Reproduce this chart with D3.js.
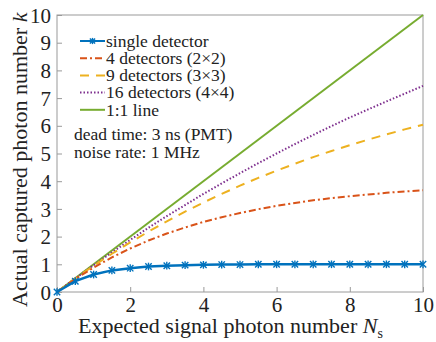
<!DOCTYPE html>
<html>
<head>
<meta charset="utf-8">
<script src="https://cdn.jsdelivr.net/npm/d3@7"></script>
</head>
<body style="margin:0;background:#fff">
<svg id="chart" width="436" height="342"></svg>
<script>
// expected signal photon number, sampled every 0.5
const ns = [0, 0.5, 1, 1.5, 2, 2.5, 3, 3.5, 4, 4.5, 5, 5.5, 6, 6.5, 7, 7.5, 8, 8.5, 9, 9.5, 10];
const single = [0, 0.39, 0.63, 0.78, 0.86, 0.92, 0.95, 0.97, 0.98, 0.99, 0.99, 1.0, 1.0, 1.0, 1.0, 1.0, 1.0, 1.0, 1.0, 1.0, 1.0];
const det4 = [0, 0.47, 0.88, 1.25, 1.57, 1.86, 2.11, 2.33, 2.53, 2.70, 2.85, 2.99, 3.11, 3.21, 3.31, 3.39, 3.46, 3.52, 3.58, 3.63, 3.67];
const det9 = [0, 0.49, 0.95, 1.38, 1.79, 2.18, 2.55, 2.90, 3.23, 3.54, 3.84, 4.12, 4.38, 4.63, 4.87, 5.09, 5.30, 5.50, 5.69, 5.87, 6.04];
const det16 = [0, 0.49, 0.97, 1.43, 1.88, 2.32, 2.74, 3.14, 3.54, 3.92, 4.29, 4.65, 5.00, 5.34, 5.67, 5.99, 6.30, 6.59, 6.88, 7.16, 7.44];
const oneToOneX = [0, 10];
const oneToOneY = [0, 10];
const xTicks = [0, 2, 4, 6, 8, 10];
const yTicks = [0, 1, 2, 3, 4, 5, 6, 7, 8, 9, 10];

const FONT = '"Liberation Serif"';
const INK = "#222";

const margin = { top: 15, right: 13, bottom: 50, left: 57 };
const width = 436, height = 342;
const innerWidth = width - margin.left - margin.right;
const innerHeight = height - margin.top - margin.bottom;

const svg = d3.select("#chart");
const g = svg.append("g").attr("transform", `translate(${margin.left},${margin.top})`);

const x = d3.scaleLinear().domain([0, 10]).range([0, innerWidth]);
const y = d3.scaleLinear().domain([0, 10]).range([innerHeight, 0]);

function label(sel, size) {
  return sel.style("font-family", FONT).style("font-size", size + "px").attr("fill", INK);
}

// frame
g.append("rect")
  .attr("width", innerWidth)
  .attr("height", innerHeight)
  .attr("fill", "none")
  .attr("stroke", "#9a9a9a")
  .attr("stroke-width", 1);

// axes with inward ticks
const xAxis = g.append("g")
  .attr("transform", `translate(0,${innerHeight})`)
  .call(d3.axisBottom(x).tickValues(xTicks).tickSize(-5).tickPadding(5).tickFormat(d3.format("d")));
const yAxis = g.append("g")
  .call(d3.axisLeft(y).tickValues(yTicks).tickSize(-5).tickPadding(6).tickFormat(d3.format("d")));

[xAxis, yAxis].forEach(a => {
  a.select(".domain").remove();
  a.selectAll(".tick line").attr("stroke", "#9a9a9a");
  label(a.selectAll(".tick text"), 21);
});
xAxis.selectAll(".tick text").attr("dy", "0.72em");
yAxis.selectAll(".tick text").attr("dy", "0.34em");

const series = [
  { name: "single detector", values: single, color: "#0072BD", dash: null, marker: true },
  { name: "4 detectors (2\u00d72)", values: det4, color: "#D95319", dash: "7,3,2,3", marker: false },
  { name: "9 detectors (3\u00d73)", values: det9, color: "#EDB120", dash: "9,7", marker: false },
  { name: "16 detectors (4\u00d74)", values: det16, color: "#7E2F8E", dash: "1.5,2", marker: false },
];

const line = d3.line().x(d => x(d[0])).y(d => y(d[1]));

// 1:1 line
g.append("path")
  .datum(d3.zip(oneToOneX, oneToOneY))
  .attr("fill", "none")
  .attr("stroke", "#77AC30")
  .attr("stroke-width", 2)
  .attr("d", line);

series.slice().reverse().forEach(s => {
  g.append("path")
    .datum(d3.zip(ns, s.values))
    .attr("fill", "none")
    .attr("stroke", s.color)
    .attr("stroke-width", s.marker ? 2.5 : 2)
    .attr("stroke-dasharray", s.dash)
    .attr("d", line);
});

// asterisk-like markers on single detector curve
function star(sel, cx, cy, r, color) {
  const gg = sel.append("g").attr("transform", `translate(${cx},${cy})`)
    .attr("stroke", color).attr("stroke-width", 1.4);
  gg.append("line").attr("x1", -r).attr("x2", r).attr("y1", -r).attr("y2", r);
  gg.append("line").attr("x1", -r).attr("x2", r).attr("y1", r).attr("y2", -r);
  gg.append("line").attr("x1", 0).attr("x2", 0).attr("y1", -r * 1.2).attr("y2", r * 1.2);
}
ns.forEach((v, i) => star(g, x(v), y(single[i]), 3.2, "#0072BD"));

// legend
const legendItems = series.concat([{ name: "1:1 line", color: "#77AC30", dash: null, marker: false }]);
const lg = svg.append("g").attr("transform", "translate(80,41)");
legendItems.forEach((s, i) => {
  const row = lg.append("g").attr("transform", `translate(0,${i * 17.2})`);
  row.append("line")
    .attr("x1", 0).attr("x2", 25)
    .attr("stroke", s.color)
    .attr("stroke-width", 2)
    .attr("stroke-dasharray", s.dash);
  if (s.marker) star(row, 12.5, 0, 2.6, s.color);
  label(row.append("text"), 17.5)
    .attr("x", 26)
    .attr("dy", "0.33em")
    .text(s.name);
});

label(svg.append("text"), 17.5).attr("x", 74).attr("y", 140).text("dead time: 3 ns (PMT)");
label(svg.append("text"), 17.5).attr("x", 74).attr("y", 158).text("noise rate: 1 MHz");

// x axis title
const xt = label(svg.append("text"), 22).attr("x", 78).attr("y", 333);
xt.append("tspan").text("Expected signal photon number ");
xt.append("tspan").style("font-style", "italic").text("N");
xt.append("tspan").attr("dy", 5).style("font-size", "14px").text("s");

// y axis title
const yt = label(svg.append("text"), 22)
  .attr("transform", "translate(27,307) rotate(-90)");
yt.append("tspan").text("Actual captured photon number ");
yt.append("tspan").style("font-style", "italic").text("k");
</script>
</body>
</html>
